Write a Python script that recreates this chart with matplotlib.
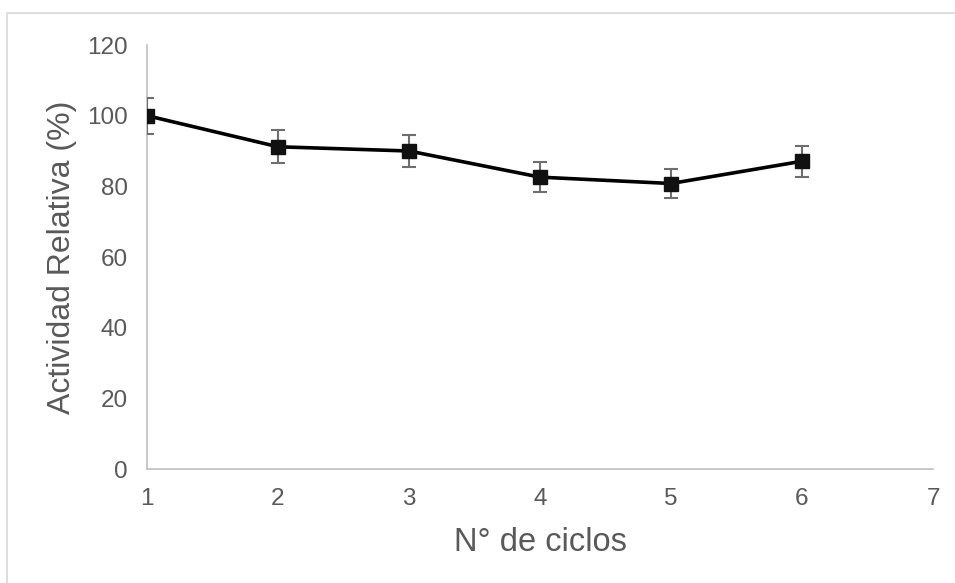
import matplotlib.pyplot as plt
from matplotlib.patches import Rectangle

# datos: ciclos y actividad relativa
ciclos = [1, 2, 3, 4, 5, 6]
actividad = [100, 91.2, 90.0, 82.6, 80.8, 87.1]
error = [5.1, 4.7, 4.6, 4.2, 4.1, 4.4]

xticks = [1, 2, 3, 4, 5, 6, 7]
yticks = [0, 20, 40, 60, 80, 100, 120]

plt.rcParams['font.family'] = ['Liberation Sans', 'DejaVu Sans']

W, H = 955, 583
fig = plt.figure(figsize=(W / 100, H / 100), dpi=100)
ax = fig.add_axes([147 / W, 1 - 469 / H, (933 - 147) / W, (469 - 45) / H])

# marco gris del grafico
fig.patches.append(Rectangle((7 / W, -0.1), 1.2, 1 - 13 / H + 0.1,
                             transform=fig.transFigure, fill=False,
                             edgecolor='#d9d9d9', linewidth=1.2))

ax.errorbar(ciclos, actividad, yerr=error, color='black', linewidth=2.6,
            marker='s', markersize=10, markerfacecolor='#111111',
            markeredgecolor='#111111', ecolor='#6e6e6e', elinewidth=1.5,
            capsize=5, capthick=1.5, zorder=3)

ax.set_xlim(1, 7)
ax.set_ylim(0, 120)
ax.set_xticks(xticks)
ax.set_yticks(yticks)
ax.tick_params(length=0, labelsize=17.5, colors='#595959')
ax.tick_params(axis='x', pad=14)
ax.tick_params(axis='y', pad=14)

for s in ['top', 'right']:
    ax.spines[s].set_visible(False)
for s in ['left', 'bottom']:
    ax.spines[s].set_color('#bfbfbf')
    ax.spines[s].set_linewidth(1.2)

ax.set_xlabel('N° de ciclos', fontsize=23.5, color='#595959', labelpad=12)
ax.set_ylabel('Actividad Relativa (%)', fontsize=23, color='#595959', labelpad=7)

fig.savefig('out.png', dpi=100)
